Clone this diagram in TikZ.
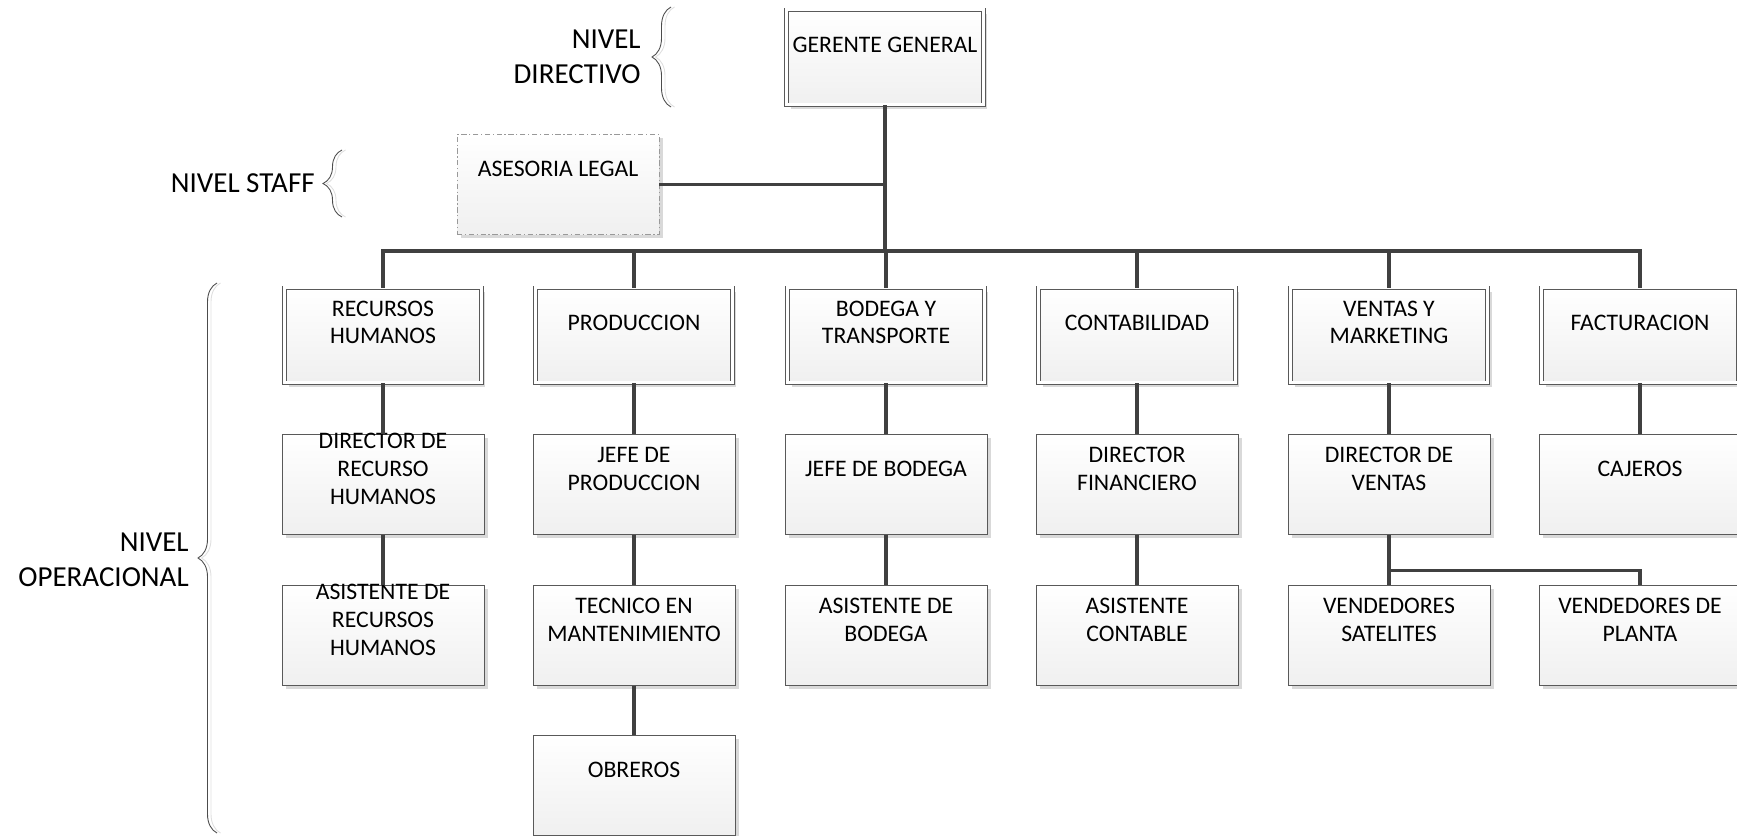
\documentclass[tikz,border=0pt]{standalone}
\usepackage{fontspec}
\setmainfont{Carlito}
\usetikzlibrary{positioning, shadows, decorations.pathreplacing}

\newcommand{\boxfont}{\fontsize{13.5}{15.8}\selectfont}
\newcommand{\lvlfont}{\fontsize{16.5}{20.2}\selectfont}

\tikzstyle{unit} = [rectangle, anchor=north, minimum width=4.04cm, minimum height=2cm, draw=gray!70!black, line width=0.4pt, top color=white, bottom color=gray!12, drop shadow={shadow xshift=0.08cm, shadow yshift=-0.08cm, fill=gray!30, opacity=1}]
\tikzstyle{head} = [unit, minimum width=3.94cm, minimum height=1.9cm, yshift=-0.05cm, double=white, double distance=0.06cm]
\tikzstyle{staff} = [unit, draw=gray!80, dash pattern=on 3pt off 1.5pt on 0.7pt off 1.5pt]
\tikzstyle{txt} = [anchor=center, yshift=-0.7cm, align=center, inner sep=0pt, font=\boxfont]
\tikzstyle{lvl} = [anchor=east, align=right, inner sep=0pt, font=\lvlfont]
\tikzstyle{conn} = [line width=2pt, draw=black!75]
\tikzstyle{lvlbrace} = [decorate, decoration={brace, amplitude=0.38cm}, draw=gray!60!black, line width=0.5pt]
\tikzstyle{braceshade} = [lvlbrace, draw=gray!25, xshift=0.07cm]

\begin{document}
\begin{tikzpicture}[x=0.02cm, y=-0.02cm]
        \clip (0,0) rectangle (1737,835);

        % Nodes
        \node (ger) [head, label={[txt]north:GERENTE GENERAL}] at (885,7) {};
        \node (ase) [staff, label={[txt]north:ASESORIA LEGAL}] at (558,134) {};

        \node (rrhh) [head, label={[txt]north:{RECURSOS\\HUMANOS}}] at (383,285) {};
        \node (prod) [head, label={[txt]north:PRODUCCION}] at (634,285) {};
        \node (bod) [head, label={[txt]north:{BODEGA Y\\TRANSPORTE}}] at (886,285) {};
        \node (cont) [head, label={[txt]north:CONTABILIDAD}] at (1137,285) {};
        \node (vent) [head, label={[txt]north:{VENTAS Y\\MARKETING}}] at (1389,285) {};
        \node (fact) [head, label={[txt]north:FACTURACION}] at (1640,285) {};

        \node (dirrh) [unit, label={[txt]north:{DIRECTOR DE\\RECURSO\\HUMANOS}}] at (383,434) {};
        \node (jprod) [unit, label={[txt]north:{JEFE DE\\PRODUCCION}}] at (634,434) {};
        \node (jbod) [unit, label={[txt]north:JEFE DE BODEGA}] at (886,434) {};
        \node (dfin) [unit, label={[txt]north:{DIRECTOR\\FINANCIERO}}] at (1137,434) {};
        \node (dvent) [unit, label={[txt]north:{DIRECTOR DE\\VENTAS}}] at (1389,434) {};
        \node (caj) [unit, label={[txt]north:CAJEROS}] at (1640,434) {};

        \node (asrh) [unit, label={[txt]north:{ASISTENTE DE\\RECURSOS\\HUMANOS}}] at (383,585) {};
        \node (tec) [unit, label={[txt]north:{TECNICO EN\\MANTENIMIENTO}}] at (634,585) {};
        \node (asbod) [unit, label={[txt]north:{ASISTENTE DE\\BODEGA}}] at (886,585) {};
        \node (ascont) [unit, label={[txt]north:{ASISTENTE\\CONTABLE}}] at (1137,585) {};
        \node (vsat) [unit, label={[txt]north:{VENDEDORES\\SATELITES}}] at (1389,585) {};
        \node (vpla) [unit, label={[txt]north:{VENDEDORES DE\\PLANTA}}] at (1640,585) {};

        \node (obr) [unit, label={[txt]north:OBREROS}] at (634,735) {};

        % Levels
        \node (lvldir) [lvl] at (641,57) {NIVEL\\DIRECTIVO};
        \node (lvlstaff) [lvl] at (315,183) {NIVEL STAFF};
        \node (lvlop) [lvl] at (189,560) {NIVEL\\OPERACIONAL};
        \draw [braceshade] (671,107) -- (671,7);
        \draw [lvlbrace] (671,107) -- (671,7);
        \draw [braceshade] (342,217) -- (342,150);
        \draw [lvlbrace] (342,217) -- (342,150);
        \draw [braceshade] (217,833) -- (217,283);
        \draw [lvlbrace] (217,833) -- (217,283);

        % Arrows
        \coordinate (bus) at (885,251);
        \draw [conn] (ger.south) -- (bus);
        \draw [conn] (ase.east) -- (ase.east -| ger.south);
        \draw [conn] (rrhh.north) |- (bus) -| (fact.north);
        \draw [conn] (prod.north) -- (prod.north |- bus);
        \draw [conn] (bod.north) -- (bod.north |- bus);
        \draw [conn] (cont.north) -- (cont.north |- bus);
        \draw [conn] (vent.north) -- (vent.north |- bus);

        \draw [conn] (rrhh.south) -- (dirrh.north);
        \draw [conn] (dirrh.south) -- (asrh.north);
        \draw [conn] (prod.south) -- (jprod.north);
        \draw [conn] (jprod.south) -- (tec.north);
        \draw [conn] (tec.south) -- (obr.north);
        \draw [conn] (bod.south) -- (jbod.north);
        \draw [conn] (jbod.south) -- (asbod.north);
        \draw [conn] (cont.south) -- (dfin.north);
        \draw [conn] (dfin.south) -- (ascont.north);
        \draw [conn] (vent.south) -- (dvent.north);
        \draw [conn] (dvent.south) -- (vsat.north);
        \draw [conn] (dvent.south) ++(0,36) -| (vpla.north);
        \draw [conn] (fact.south) -- (caj.north);
    \end{tikzpicture}
\end{document}
